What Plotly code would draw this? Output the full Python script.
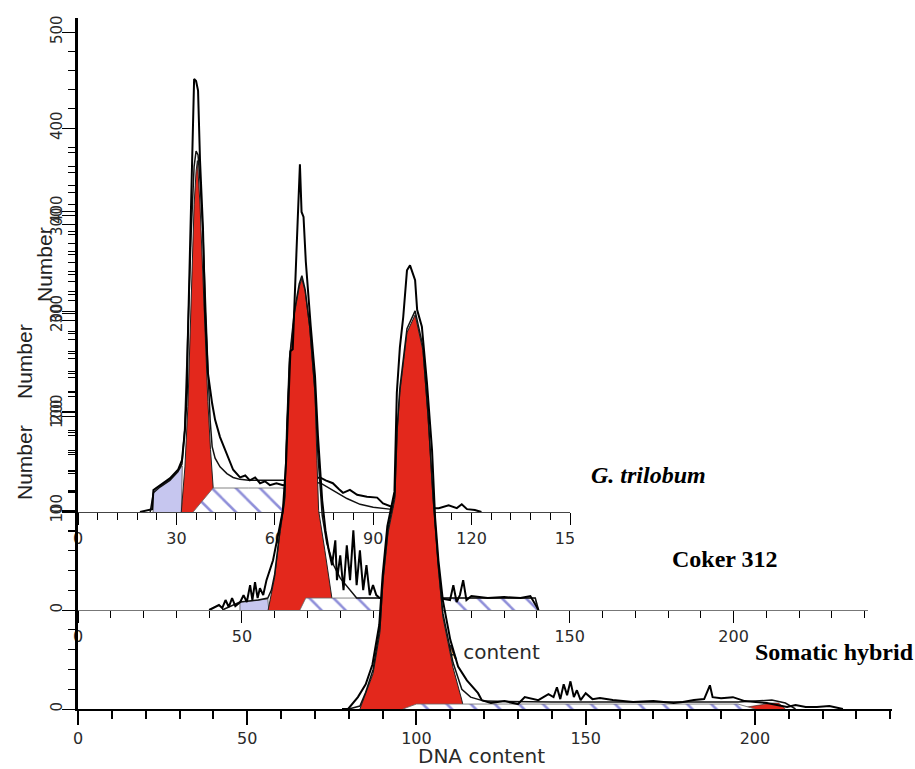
import plotly.graph_objects as go

W, H = 915, 769

# ---------------- G. trilobum (top panel) ----------------
p1_raw_x = [18.9, 21.0, 22.6, 23.0, 25.0, 28.0, 30.5, 31.7, 32.6, 33.2,
            33.5, 34.1, 34.8, 35.1, 35.4, 36.0, 36.6, 37.2, 38.1, 38.7,
            39.6, 40.9, 41.8, 43.3, 45.4, 47.3, 49.4, 51.0, 52.4, 54.0,
            55.5, 57.0, 58.5, 60.5, 62.5, 66.0, 70.0, 73.8, 75.5, 77.7,
            79.5, 80.8, 82.9, 85.1, 88.1, 91.2, 93.0, 96.0, 100.0, 105.0,
            110.0, 113.0, 115.5, 117.0, 118.6, 121.0, 123.0]
p1_raw_y = [0, 2, 3, 23, 28, 35, 44, 54, 85, 124,
            182, 272, 356, 400, 451, 449, 439, 366, 296, 210,
            145, 113, 96, 78, 61, 44, 36, 38, 33, 36,
            30, 32, 28, 30, 28, 30, 34, 36, 33, 30,
            24, 20, 23, 18, 16, 15, 9, 5, 4, 4,
            4, 7, 4, 8, 3, 2, 0]
p1_fit_x = [22.0, 23.0, 25.0, 28.0, 30.5, 31.7, 32.5, 33.5, 34.5, 35.4,
            36.0, 36.6, 37.2, 38.1, 38.7, 39.6, 40.3, 40.9, 41.8, 43.3,
            45.4, 47.3, 49.4, 52.0, 56.0, 62.5, 66.0, 70.0, 74.0, 78.0,
            82.0, 86.0, 90.0, 95.0, 100.0]
p1_fit_y = [0, 20, 26, 33, 42, 50, 85, 190, 290, 360,
            376, 372, 345, 290, 230, 150, 95, 68, 56, 47,
            40, 36, 34, 33, 33, 33, 33, 32, 30, 22,
            14, 8, 5, 3, 0]
p1_g1_x = [31.5, 32.6, 33.5, 34.2, 34.8, 35.4, 36.0, 36.4, 37.2, 38.0, 38.8, 39.6, 40.4, 41.2, 41.4]
p1_g1_y = [0, 47, 110, 180, 250, 320, 355, 366, 320, 250, 180, 115, 65, 26, 0]
p1_s_x = [35.1, 41.2, 52.0, 62.5, 66.0, 66.0]
p1_s_y = [0, 25, 25, 25, 25, 0]
p1_deb_x = [22.9, 23.0, 25.0, 28.0, 30.5, 31.8, 31.5]
p1_deb_y = [0, 22, 27, 34, 43, 48, 0]

# ---------------- Coker 312 (middle panel) ----------------
p2_raw_x = [40.0, 43.0, 44.0, 45.0, 46.0, 47.0, 48.0, 49.5, 50.5, 51.5,
            52.5, 53.2, 54.0, 54.8, 55.5, 56.5, 57.5, 58.5, 59.5, 61.0,
            62.5, 63.5, 64.0, 64.8, 65.5, 66.2, 67.0, 67.7, 68.2, 68.8,
            69.5, 71.0, 72.3, 73.2, 73.8, 74.5, 75.5, 76.5, 77.5, 78.5,
            79.0, 80.0, 81.0, 82.0, 83.0, 84.0, 85.0, 86.0, 87.0, 88.0,
            89.0, 90.0, 91.0, 92.0, 100.0, 110.0, 113.5, 114.5, 115.5, 116.5,
            117.5, 118.5, 120.0, 125.0, 130.0, 135.0, 138.0, 139.5, 140.5]
p2_raw_y = [0, 5, 2, 10, 3, 12, 4, 8, 15, 8,
            25, 10, 28, 12, 22, 15, 30, 40, 50, 75,
            100, 150, 200, 260, 262, 330, 390, 448, 400, 395,
            350, 285, 235, 175, 140, 110, 80, 60, 45, 70,
            30, 55, 20, 65, 30, 80, 25, 60, 20, 45,
            15, 25, 15, 12, 12, 12, 10, 25, 8, 15,
            30, 10, 14, 12, 13, 12, 14, 5, 0]
p2_fit_x = [44.0, 49.4, 55.0, 57.9, 59.0, 60.0, 61.6, 63.1, 63.7, 64.5, 66.0, 67.5, 68.3, 69.3,
            70.7, 72.3, 73.2, 74.5, 75.9, 78.0, 80.0, 85.0, 90.0, 100.0, 120.0, 139.5, 140.5]
p2_fit_y = [0, 8, 10, 12, 20, 36, 80, 115, 185, 252, 300, 328, 336, 322,
            285, 220, 155, 95, 67, 45, 32, 12, 12, 12, 12, 12, 0]
p2_g1_x = [58.0, 59.0, 60.0, 61.6, 63.1, 63.7, 64.5, 66.0, 67.5, 68.3, 69.3, 70.7, 72.3, 72.9, 73.4,
           75.3, 76.5, 77.4, 78.0]
p2_g1_y = [0, 15, 33, 77, 110, 183, 250, 297, 325, 333, 320, 283, 217, 150, 100, 60, 30, 13, 0]
p2_s_x = [67.7, 69.5, 139.5, 140.0]
p2_s_y = [0, 12, 12, 0]
p2_deb_x = [49.4, 49.4, 57.9, 58.2]
p2_deb_y = [0, 8, 11, 0]

# ---------------- Somatic hybrid (bottom panel) ----------------
p3_raw_x = [78.0, 79.8, 82.7, 85.0, 87.0, 89.0, 90.0, 91.4, 93.5, 94.2,
            95.1, 96.1, 97.2, 98.1, 99.6, 100.2, 101.6, 103.1, 104.6, 105.5,
            106.5, 107.8, 110.0, 112.3, 114.9, 118.2, 119.3, 122.0, 126.0, 130.0,
            132.0, 136.0, 139.0, 140.5, 141.5, 142.5, 143.5, 144.5, 145.5, 146.5,
            147.4, 148.5, 150.0, 152.0, 154.2, 158.0, 164.0, 170.0, 176.0, 178.7,
            182.0, 185.0, 186.7, 187.5, 190.0, 193.5, 197.0, 203.5, 209.5, 212.0,
            215.0, 218.3, 222.0, 226.0]
p3_raw_y = [0, 0, 12, 25, 45, 85, 135, 185, 220, 320,
            366, 397, 444, 449, 434, 404, 387, 330, 262, 194,
            150, 110, 70, 43, 29, 16, 9, 6, 8, 5,
            12, 9, 15, 12, 22, 10, 25, 14, 28, 12,
            19, 9, 16, 10, 11, 9, 7, 8, 6, 7,
            9, 10, 24, 12, 11, 12, 8, 6, 2, 4,
            2, 2, 3, 0]
p3_fit_x = [80.0, 83.3, 85.0, 87.2, 89.2, 90.1, 91.6, 93.6, 94.3, 95.1, 97.2, 99.6, 101.9, 103.4,
            104.9, 106.4, 107.8, 110.8, 113.4, 116.0, 120.0, 140.0, 160.0, 180.0, 195.0, 200.0,
            205.0, 209.0, 212.0]
p3_fit_y = [0, 3, 17, 40, 82, 132, 182, 216, 285, 325, 385, 403, 367, 300,
            216, 148, 97, 47, 20, 12, 8, 7, 7, 7, 7, 8, 9, 6, 0]
p3_g1_x = [83.3, 85.0, 87.2, 89.2, 90.1, 91.6, 93.6, 94.3, 95.1, 97.2, 99.6, 101.9, 103.4, 104.9,
           106.4, 107.8, 110.8, 113.4, 114.0]
p3_g1_y = [0, 15, 36, 77, 128, 178, 212, 280, 320, 381, 399, 363, 296, 212, 144, 93, 42, 9, 0]
p3_s_x = [96.0, 100.0, 195.0, 200.0]
p3_s_y = [0, 5, 5, 0]
p3_g2_x = [194.0, 200.0, 205.0, 207.0, 209.0]
p3_g2_y = [0, 3, 6, 6, 0]

# tick labels
p1_xticks = [0, 30, 60, 90, 120, 150]
p23_xticks = [0, 50, 100, 150, 200]
p1_yticks = [0, 100, 200, 300, 400, 500]
p2_yticks = [0, 100, 200, 300, 400]
p3_yticks = [0, 100, 200, 300, 400, 500]
p3_ytext = ["0", "", "", "", "", ""]

RED = "#e3281c"
DEB = "#c6c6ef"
HATCH = "#2020b4"
TICKFONT = dict(family="DejaVu Sans", size=16, color="#2a2a2a")

fig = go.Figure()


def add_panel(xa, ya, deb, sph, g1, fit, raw, extra=None):
    if deb is not None:
        fig.add_trace(go.Scatter(x=deb[0], y=deb[1], xaxis=xa, yaxis=ya, mode="lines",
                                 fill="toself", fillcolor=DEB, line=dict(width=0.8, color="#555")))
    fig.add_trace(go.Scatter(x=g1[0], y=g1[1], xaxis=xa, yaxis=ya, mode="lines",
                             fill="toself", fillcolor=RED, line=dict(width=1, color="#222")))
    if extra is not None:
        fig.add_trace(go.Scatter(x=extra[0], y=extra[1], xaxis=xa, yaxis=ya, mode="lines",
                                 fill="toself", fillcolor=RED, line=dict(width=0.6, color="#222")))
    fig.add_trace(go.Scatter(x=sph[0], y=sph[1], xaxis=xa, yaxis=ya, mode="lines",
                             fill="toself", fillcolor="white",
                             fillpattern=dict(shape="\\", fgcolor=HATCH, bgcolor="white",
                                              size=17, solidity=0.15),
                             line=dict(width=0.8, color="#666")))
    fig.add_trace(go.Scatter(x=fit[0], y=fit[1], xaxis=xa, yaxis=ya, mode="lines",
                             line=dict(width=1.5, color="#111")))
    fig.add_trace(go.Scatter(x=raw[0], y=raw[1], xaxis=xa, yaxis=ya, mode="lines",
                             line=dict(width=2, color="#000")))


add_panel("x", "y", (p1_deb_x, p1_deb_y), (p1_s_x, p1_s_y), (p1_g1_x, p1_g1_y),
          (p1_fit_x, p1_fit_y), (p1_raw_x, p1_raw_y))
add_panel("x2", "y2", (p2_deb_x, p2_deb_y), (p2_s_x, p2_s_y), (p2_g1_x, p2_g1_y),
          (p2_fit_x, p2_fit_y), (p2_raw_x, p2_raw_y))

# x-axis title of the middle panel, drawn in that panel's layer so the hybrid peak covers part of it
x2_range = [0, 241]
y2_range = [-50, 462]
fig.add_trace(go.Scatter(x=[sum(x2_range) / 2 + 1], y=[-44], xaxis="x2", yaxis="y2", mode="text",
                         text=["DNA content"], cliponaxis=False,
                         textfont=dict(family="DejaVu Sans", size=20, color="#2a2a2a")))

add_panel("x3", "y3", None, (p3_s_x, p3_s_y), (p3_g1_x, p3_g1_y),
          (p3_fit_x, p3_fit_y), (p3_raw_x, p3_raw_y), extra=(p3_g2_x, p3_g2_y))


def dx(px):
    return px / W


def dy(py):
    return 1 - py / H


common_x = dict(showgrid=False, zeroline=False, showline=True, ticks="outside", automargin=False,
                tickfont=TICKFONT, tickcolor="#000", fixedrange=True)
common_y = dict(showgrid=False, zeroline=False, showline=True, ticks="outside", automargin=False,
                tickfont=dict(family="DejaVu Sans", size=15, color="#2a2a2a"),
                tickangle=-90, tickcolor="#000", linecolor="#000", linewidth=2.5,
                ticklen=13, ticklabelstandoff=-6, fixedrange=True)

fig.update_layout(
    width=W, height=H, margin=dict(l=0, r=0, t=0, b=0, autoexpand=False),
    paper_bgcolor="white", plot_bgcolor="rgba(0,0,0,0)", showlegend=False,
    xaxis=dict(common_x, domain=[dx(78), dx(570)], range=[0, 150], anchor="y",
               tickvals=p1_xticks, ticklen=12, linecolor="#444", linewidth=1,
               minor=dict(dtick=6, tick0=0, ticklen=7, ticks="outside", tickcolor="#000")),
    yaxis=dict(common_y, domain=[dy(512), dy(17.6)], range=[0, 515], anchor="x",
               tickvals=p1_yticks,
               minor=dict(dtick=20, tick0=0, ticklen=7, ticks="outside", tickcolor="#000")),
    xaxis2=dict(common_x, domain=[dx(78), dx(868)], range=x2_range, anchor="free", position=dy(610),
                tickvals=p23_xticks, ticklen=12, linecolor="#777", linewidth=1,
                minor=dict(dtick=10, tick0=0, ticklen=7, ticks="outside", tickcolor="#000")),
    yaxis2=dict(common_y, domain=[dy(659.75), dy(150.3)], range=y2_range, anchor="x2",
                tickvals=p2_yticks,
                minor=dict(dtick=20, tick0=0, ticklen=7, ticks="outside", tickcolor="#000")),
    xaxis3=dict(common_x, domain=[dx(78), dx(892)], range=[0, 240.5], anchor="y3",
                tickvals=p23_xticks, ticklen=14, linecolor="#000", linewidth=2, tickwidth=1.5,
                minor=dict(dtick=10, tick0=0, ticklen=8, ticks="outside", tickcolor="#000")),
    yaxis3=dict(common_y, domain=[dy(709), dy(215)], range=[0, 500], anchor="x3",
                tickvals=p3_yticks, ticktext=p3_ytext,
                minor=dict(dtick=20, tick0=0, ticklen=7, ticks="outside", tickcolor="#000")),
)

serif = "Liberation Serif, Times New Roman, serif"
ann = [
    dict(text="<b><i>G. trilobum</i></b>", x=dx(648), y=dy(475), font=dict(family=serif, size=24, color="#000")),
    dict(text="<b>Coker 312</b>", x=dx(725), y=dy(559), font=dict(family=serif, size=24, color="#000")),
    dict(text="<b>Somatic hybrid</b>", x=dx(834), y=dy(652), font=dict(family=serif, size=24, color="#000")),
    dict(text="DNA content", x=dx(481), y=dy(756), font=dict(family="DejaVu Sans", size=20, color="#2a2a2a")),
    dict(text="Number", x=dx(24), y=dy(463), textangle=-90, font=dict(family="Liberation Sans", size=21, color="#222")),
    dict(text="Number", x=dx(24), y=dy(362), textangle=-90, font=dict(family="Liberation Sans", size=21, color="#222")),
    dict(text="Number", x=dx(44), y=dy(265), textangle=-90, font=dict(family="Liberation Sans", size=21, color="#222")),
]
for a in ann:
    fig.add_annotation(xref="paper", yref="paper", showarrow=False, xanchor="center", yanchor="middle", **a)

# the top panel's last tick label is cut off at the panel's right edge in the original
fig.add_shape(type="rect", xref="paper", yref="paper", x0=dx(574), x1=dx(600), y0=dy(552), y1=dy(522),
              fillcolor="white", line=dict(width=0), layer="above")

fig.write_html("out.html", config={"displayModeBar": False},
               post_script="document.body.style.margin='0';")
